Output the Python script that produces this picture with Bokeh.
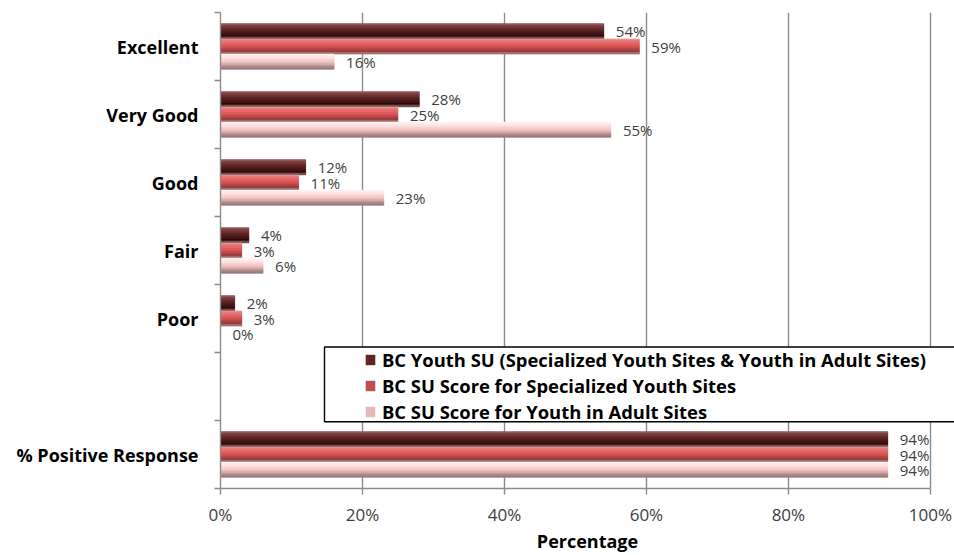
from bokeh.plotting import figure
from bokeh.models import Range1d, FixedTicker, Legend, LegendItem, BoxAnnotation
from bokeh.embed import file_html
from bokeh.resources import INLINE
from bokeh.core.properties import value

# ---------------- data ----------------
categories = ["Excellent", "Very Good", "Good", "Fair", "Poor", "", "% Positive Response"]
series_names = [
    "BC Youth SU (Specialized Youth Sites & Youth in Adult Sites)",
    "BC SU Score for Specialized Youth Sites",
    "BC SU Score for Youth in Adult Sites",
]
youth_su = [54, 28, 12, 4, 2, None, 94]
specialized_youth = [59, 25, 11, 3, 3, None, 94]
youth_in_adult = [16, 55, 23, 6, 0, None, 94]
x_ticks = [0, 20, 40, 60, 80, 100]
x_tick_labels = ["0%", "20%", "40%", "60%", "80%", "100%"]
x_title = "Percentage"

# ---------------- style ----------------
FONT = "Open Sans"
GRID = "#8c8c8c"
legend_colors = ["#632523", "#c0504d", "#e6b9b8"]
gradients = [
    ["#8d5656", "#7a3f3f", "#6b3030", "#5e2525", "#511c1c", "#431414", "#330c0c", "#6e5050"],
    ["#ea9090", "#e87474", "#e86666", "#df5c5c", "#cc4f4f", "#b44444", "#993838", "#a07070"],
    ["#fff2f2", "#ffe6e6", "#ffdada", "#f7cfcf", "#e9bfbf", "#d4a9a9", "#b88e8e", "#9c7c7c"],
]
offsets = [0.224, 0.0, -0.224]
bar_h = 0.224

n = len(categories)
p = figure(width=954, height=555, output_backend="svg", toolbar_location=None,
           x_range=Range1d(0, 103.4), y_range=Range1d(-0.5, n - 0.5),
           min_border_left=220, min_border_right=0, min_border_top=12, min_border_bottom=65)
p.outline_line_color = None
p.background_fill_color = "white"
p.border_fill_color = "white"

# grid
p.ygrid.visible = False
p.xgrid.ticker = FixedTicker(ticks=x_ticks)
p.xgrid.grid_line_color = GRID
p.xgrid.grid_line_width = 1.4

# x axis
xa = p.xaxis[0]
xa.ticker = FixedTicker(ticks=x_ticks)
xa.bounds = (x_ticks[0], x_ticks[-1])
xa.major_label_overrides = {t: l for t, l in zip(x_ticks, x_tick_labels)}
xa.axis_line_color = GRID
xa.axis_line_width = 1.4
xa.major_tick_line_color = GRID
xa.major_tick_line_width = 1.4
xa.major_tick_out = 6
xa.major_tick_in = 0
xa.minor_tick_line_color = None
xa.major_label_text_font = FONT
xa.major_label_text_font_size = "17px"
xa.major_label_text_color = "#404040"
xa.major_label_standoff = 8
xa.axis_label = x_title
xa.axis_label_text_font = FONT
xa.axis_label_text_font_size = "18px"
xa.axis_label_text_font_style = "bold"
xa.axis_label_text_color = "#000000"
xa.axis_label_standoff = 0

# y axis
ya = p.yaxis[0]
centers = [n - 1 - i for i in range(n)]
ya.ticker = FixedTicker(ticks=centers, minor_ticks=[c - 0.5 for c in centers] + [n - 0.5])
ya.major_label_overrides = {c: cat for c, cat in zip(centers, categories)}
ya.axis_line_color = GRID
ya.axis_line_width = 1.4
ya.major_tick_line_color = None
ya.major_tick_out = 0
ya.major_tick_in = 0
ya.minor_tick_line_color = GRID
ya.minor_tick_line_width = 1.4
ya.minor_tick_out = 6
ya.minor_tick_in = 0
ya.major_label_text_font = FONT
ya.major_label_text_font_size = "18px"
ya.major_label_text_font_style = "bold"
ya.major_label_text_color = "#000000"
ya.major_label_standoff = 16

# bars
all_series = [youth_su, specialized_youth, youth_in_adult]
legend_items = []
for k, vals in enumerate(all_series):
    ys = [n - 1 - i + offsets[k] for i, v in enumerate(vals) if v is not None]
    xs = [v for v in vals if v is not None]
    base = p.hbar(y=ys, left=0, right=xs, height=bar_h,
                  fill_color=legend_colors[k], line_color=None)
    legend_items.append(LegendItem(label=series_names[k], renderers=[base]))
    grad = gradients[k]
    m = len(grad)
    for j, c in enumerate(grad):
        yc = [y + bar_h / 2 - (j + 0.5) * bar_h / m for y in ys]
        p.hbar(y=yc, left=0, right=xs, height=bar_h / m,
               fill_color=c, line_color=c, line_width=0.6)
    p.text(x=xs, y=ys, text=[f"{v}%" for v in xs], x_offset=12,
           text_baseline="middle", text_align="left",
           text_font=value(FONT), text_font_size="15px", text_color="#404040")

# legend frame (box drawn separately so the swatches sit inset as in the original)
box = BoxAnnotation(left=14.65, right=110, top=1.58, bottom=0.481,
                    fill_color="white", fill_alpha=1.0,
                    line_color="black", line_alpha=1.0, line_width=1.4)
p.add_layout(box)

legend = Legend(items=legend_items, location=(144, 64),
                padding=0, margin=0, spacing=1,
                glyph_width=12, glyph_height=13, label_standoff=6,
                border_line_color=None, background_fill_alpha=0.0,
                label_text_font=FONT, label_text_font_size="18.4px",
                label_text_font_style="bold", label_text_color="#000000")
p.add_layout(legend)

open("out.html", "w").write(file_html(p, INLINE))
